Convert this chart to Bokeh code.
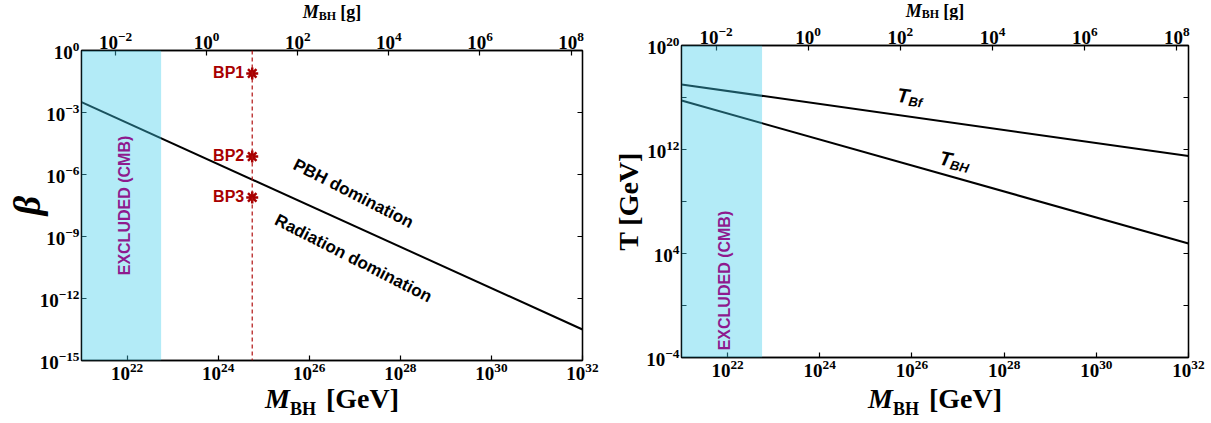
import numpy as np
from bokeh.plotting import figure
from bokeh.models import (LogAxis, FixedTicker, Range1d, LogScale, Label, BoxAnnotation,
                          Span, CustomJSTickFormatter)
from bokeh.layouts import row, column
from bokeh.embed import file_html
from bokeh.resources import INLINE
from bokeh.core.properties import value

# ---------------- data ----------------
GEV_TO_G = 1.783e-24
mass_range_gev = [1e21, 1e32]
mass_line_gev = [1e21, 1e32]
beta_crit = [10**-2.5, 10**-13.5]
excluded_mass_gev = [1e21, 5.6e22]
bp_mass_gev = 5.6e24
bp_names = ["BP1", "BP2", "BP3"]
bp_beta = [7.8e-2, 7.4e-6, 7.8e-8]
T_Bf = [1e17, 10**11.5]
T_BH = [10**15.77, 10**4.77]
beta_range = [1e-15, 1e0]
T_range = [1e-4, 1e20]
beta_ticks = [1e0, 1e-3, 1e-6, 1e-9, 1e-12, 1e-15]
mass_ticks_gev = [1e22, 1e24, 1e26, 1e28, 1e30, 1e32]
mass_ticks_g = [1e-2, 1e0, 1e2, 1e4, 1e6, 1e8]
T_ticks_major = [1e20, 1e12, 1e4, 1e-4]
T_ticks_minor = [1e16, 1e8, 1e0]

SERIF = "Liberation Serif"
SANS = "Liberation Sans"
BOX_COLOR = "#41cdeb"
BOX_ALPHA = 0.4
PURPLE = "#8e1a8e"
DARKRED = "#a80000"
TICK_FONT = "19px"


def style_axis(ax, labels=True):
    ax.axis_line_color = "black"
    ax.axis_line_width = 1.3
    ax.major_tick_line_color = "black"
    ax.major_tick_line_width = 1.2
    ax.major_tick_in = 5
    ax.major_tick_out = 0
    ax.minor_tick_in = 0
    ax.minor_tick_out = 0
    ax.major_label_text_font = SERIF
    ax.major_label_text_font_style = "bold"
    ax.major_label_text_font_size = TICK_FONT
    ax.major_label_text_color = "black"
    ax.major_label_standoff = 2
    if not labels:
        ax.formatter = CustomJSTickFormatter(code="return ''")


def make_fig(yr, yticks, fw, fh, bl, br, bt, bb, ylabel, ylabel_font, ylabel_style,
             ylabel_standoff, yminor=None):
    p = figure(x_axis_type="log", y_axis_type="log",
               x_range=Range1d(*mass_range_gev), y_range=Range1d(*yr),
               frame_width=fw, frame_height=fh,
               min_border_left=bl, min_border_right=br,
               min_border_top=bt, min_border_bottom=bb,
               output_backend="svg", toolbar_location=None)
    p.grid.visible = False
    p.outline_line_color = "black"
    p.outline_line_width = 1.3
    p.background_fill_color = "white"
    p.border_fill_color = "white"
    bx = p.xaxis[0]
    bx.ticker = FixedTicker(ticks=mass_ticks_gev)
    style_axis(bx)
    ly = p.yaxis[0]
    if yminor:
        ly.ticker = FixedTicker(ticks=yticks, minor_ticks=yminor)
    else:
        ly.ticker = FixedTicker(ticks=yticks)
    style_axis(ly)
    ly.axis_label = ylabel
    ly.axis_label_text_font = SERIF
    ly.axis_label_text_font_style = ylabel_style
    ly.axis_label_text_font_size = ylabel_font
    ly.axis_label_text_color = "black"
    ly.axis_label_standoff = ylabel_standoff
    if yminor:
        ly.minor_tick_in = 5
        ly.minor_tick_line_color = "black"
        ly.minor_tick_line_width = 1.2
    p.extra_x_ranges = {"g": Range1d(mass_range_gev[0] * GEV_TO_G, mass_range_gev[1] * GEV_TO_G)}
    p.extra_x_scales = {"g": LogScale()}
    top = LogAxis(x_range_name="g", ticker=FixedTicker(ticks=mass_ticks_g))
    style_axis(top)
    p.add_layout(top, "above")
    if yminor:
        ry = LogAxis(ticker=FixedTicker(ticks=yticks, minor_ticks=yminor))
    else:
        ry = LogAxis(ticker=FixedTicker(ticks=yticks))
    style_axis(ry, labels=False)
    if yminor:
        ry.minor_tick_in = 5
        ry.minor_tick_line_color = "black"
        ry.minor_tick_line_width = 1.2
    p.add_layout(ry, "right")
    return p


def strip(w, h, fw):
    # the column layout aligns this strip's frame with the plot frame below/above it,
    # so the x range spans the frame width only
    s = figure(width=w, height=h, x_range=Range1d(0, fw), y_range=Range1d(0, h),
               title=None,
               min_border=0, min_border_left=0, min_border_right=0, min_border_top=0,
               min_border_bottom=0, x_axis_location=None, y_axis_location=None,
               output_backend="svg", toolbar_location=None)
    s.grid.visible = False
    s.outline_line_color = None
    s.background_fill_color = "white"
    s.border_fill_color = "white"
    return s


def mass_label(s, cx, y_mid, size, sub_size, unit, unit_w, drop, gap):
    wM = 0.889 * size
    wBH = 1.445 * sub_size
    total = wM + wBH + gap + unit_w * size
    start = cx - total / 2
    bx = start + wM + wBH / 2
    kw = dict(text_font=value(SERIF), text_baseline="middle", text_color="black")
    s.text(x=[bx - wBH / 2], y=[y_mid], text=["M"], text_align="right",
           text_font_style="bold italic", text_font_size=f"{size}px", **kw)
    s.text(x=[bx], y=[y_mid - drop], text=["BH"], text_align="center",
           text_font_style="bold", text_font_size=f"{sub_size}px", **kw)
    s.text(x=[bx + wBH / 2 + gap], y=[y_mid], text=[unit], text_align="left",
           text_font_style="bold", text_font_size=f"{size}px", **kw)


def sub_text(p, x, y, main, sub, size, sub_size, angle_deg, w_main, drop):
    th = np.deg2rad(angle_deg)
    kw = dict(text_font=value(SANS), text_font_style="bold italic", text_color="black",
              text_align="left", text_baseline="alphabetic", angle=th)
    p.text(x=[x], y=[y], text=[main], text_font_size=f"{size}px", **kw)
    dx = w_main * np.cos(th) + drop * np.sin(th)
    dy = -w_main * np.sin(th) + drop * np.cos(th)
    p.text(x=[x], y=[y], text=[sub], text_font_size=f"{sub_size}px",
           x_offset=dx, y_offset=dy, **kw)


# ---------------- left panel ----------------
L_W, L_FW = 608, 501
p1 = make_fig(beta_range, beta_ticks, L_FW, 310, 81, 26, 27, 20, "β", "38px",
              "bold italic", -11)
p1.line(mass_line_gev, beta_crit, line_color="black", line_width=2)
p1.add_layout(Span(location=bp_mass_gev, dimension="height", line_color="#b01010",
                   line_dash="4 3", line_width=1.2))
p1.scatter(x=[bp_mass_gev] * len(bp_beta), y=bp_beta, marker="asterisk", size=12,
           line_width=2.5, line_color=DARKRED)
p1.text(x=[bp_mass_gev] * len(bp_beta), y=bp_beta, text=bp_names, text_align="right",
        text_baseline="middle", x_offset=-8, y_offset=-1, text_font=value(SANS),
        text_font_style="bold", text_font_size="16px", text_color=DARKRED)
ang = np.deg2rad(-27)
p1.text(x=[10**26.97], y=[10**-6.92], text=["PBH domination"], angle=ang,
        text_align="center", text_baseline="middle", text_font=value(SANS),
        text_font_style="bold", text_font_size="17px", text_color="black")
p1.text(x=[10**26.97], y=[10**-10.06], text=["Radiation domination"], angle=ang,
        text_align="center", text_baseline="middle", text_font=value(SANS),
        text_font_style="bold", text_font_size="17px", text_color="black")
p1.add_layout(BoxAnnotation(left=excluded_mass_gev[0], right=excluded_mass_gev[1],
                            fill_color=BOX_COLOR, fill_alpha=BOX_ALPHA, line_color=None))
p1.add_layout(Label(x=10**21.94, y=10**-7.5, text="EXCLUDED (CMB)", angle=np.pi / 2,
                    text_align="center", text_baseline="middle", text_font=SANS,
                    text_font_style="bold", text_font_size="16px", text_color=PURPLE))

top1 = strip(L_W, 23, L_FW)
mass_label(top1, L_FW / 2, 11.5, 18, 12, "[g]", 1.166, 4, 4)
bot1 = strip(L_W, 43, L_FW)
mass_label(bot1, L_FW / 2, 27, 28, 18, "[GeV]", 2.61, 10, 10)

# ---------------- right panel ----------------
R_W, R_FW = 603, 507
p2 = make_fig(T_range, T_ticks_major, R_FW, 312, 73, 23, 25, 20, "T [GeV]", "28px",
              "bold", -1, yminor=T_ticks_minor)
p2.line(mass_line_gev, T_Bf, line_color="black", line_width=2)
p2.line(mass_line_gev, T_BH, line_color="black", line_width=2)
sub_text(p2, 10**25.68, 10**16.2, "T", "Bf", 20, 13, -7, 12, 5)
sub_text(p2, 10**26.6, 10**11.4, "T", "BH", 20, 13, -12, 12, 5)
p2.add_layout(BoxAnnotation(left=excluded_mass_gev[0], right=excluded_mass_gev[1],
                            fill_color=BOX_COLOR, fill_alpha=BOX_ALPHA, line_color=None))
p2.add_layout(Label(x=10**21.93, y=10**1.92, text="EXCLUDED (CMB)", angle=np.pi / 2,
                    text_align="center", text_baseline="middle", text_font=SANS,
                    text_font_style="bold", text_font_size="16px", text_color=PURPLE))

top2 = strip(R_W, 20, R_FW)
mass_label(top2, R_FW / 2, 10, 18, 12, "[g]", 1.166, 3.5, 4)
bot2 = strip(R_W, 46, R_FW)
mass_label(bot2, R_FW / 2, 27, 28, 18, "[GeV]", 2.61, 10, 10)

left_block = column(top1, p1, bot1, spacing=0)
right_block = column(top2, p2, bot2, spacing=0)
layout = row(left_block, right_block, spacing=0)
open("out.html", "w").write(file_html(layout, INLINE))
